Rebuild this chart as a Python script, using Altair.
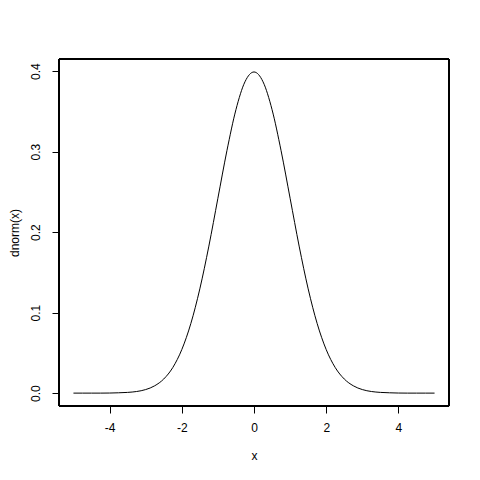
import altair as alt
import pandas as pd

x_vals = [-5.0, -4.75, -4.5, -4.25, -4.0, -3.75, -3.5, -3.25, -3.0, -2.75, -2.5,
          -2.25, -2.0, -1.75, -1.5, -1.25, -1.0, -0.75, -0.5, -0.25, 0.0,
          0.25, 0.5, 0.75, 1.0, 1.25, 1.5, 1.75, 2.0, 2.25, 2.5,
          2.75, 3.0, 3.25, 3.5, 3.75, 4.0, 4.25, 4.5, 4.75, 5.0]
y_vals = [0.0000, 0.0000, 0.0000, 0.0000, 0.0001, 0.0004, 0.0009, 0.0020, 0.0044, 0.0091, 0.0175,
          0.0317, 0.0540, 0.0863, 0.1295, 0.1826, 0.2420, 0.3011, 0.3521, 0.3867, 0.3989,
          0.3867, 0.3521, 0.3011, 0.2420, 0.1826, 0.1295, 0.0863, 0.0540, 0.0317, 0.0175,
          0.0091, 0.0044, 0.0020, 0.0009, 0.0004, 0.0001, 0.0000, 0.0000, 0.0000, 0.0000]
x_ticks = [-4, -2, 0, 2, 4]
y_ticks = [0.0, 0.1, 0.2, 0.3, 0.4]

df = pd.DataFrame({"x": x_vals, "y": y_vals})

FONT = "Liberation Sans"
W, H = 390, 347

line = alt.Chart(df).mark_line(color="black", strokeWidth=1, interpolate="monotone").encode(
    x=alt.X("x:Q", scale=alt.Scale(domain=[-5.4, 5.4], nice=False, zero=False),
            axis=alt.Axis(values=x_ticks, title="x", grid=False, domain=False,
                          tickSize=7, tickColor="black", labelPadding=9,
                          labelExpr="'' + datum.value",
                          labelFont=FONT, labelFontSize=12, labelColor="black",
                          titleFont=FONT, titleFontSize=12, titleFontWeight="normal",
                          titleColor="black", titlePadding=17)),
    y=alt.Y("y:Q", scale=alt.Scale(domain=[-0.016, 0.415], nice=False, zero=False),
            axis=alt.Axis(values=y_ticks, title="dnorm(x)", grid=False, domain=False,
                          tickSize=7, tickColor="black", labelPadding=10,
                          labelAngle=270, labelAlign="center", labelBaseline="bottom",
                          labelFont=FONT, labelFontSize=12, labelColor="black",
                          titleFont=FONT, titleFontSize=12, titleFontWeight="normal",
                          titleColor="black", titleAngle=270, titleBaseline="bottom",
                          titleAlign="center", titleX=-38, titleY=H / 2, format=".1f")),
)

box = alt.Chart(df).mark_rect(fill=None, stroke="black", strokeWidth=1).encode(
    x=alt.value(0), x2=alt.value(W), y=alt.value(0), y2=alt.value(H)
)

chart = alt.layer(line, box).properties(
    width=W, height=H,
    autosize=alt.AutoSizeParams(type="none"),
    padding={"left": 51, "top": 51, "right": 23, "bottom": 66},
).configure_view(stroke=None).configure(background="white")

chart.save("out.html", embed_options={"renderer": "svg", "actions": False})
